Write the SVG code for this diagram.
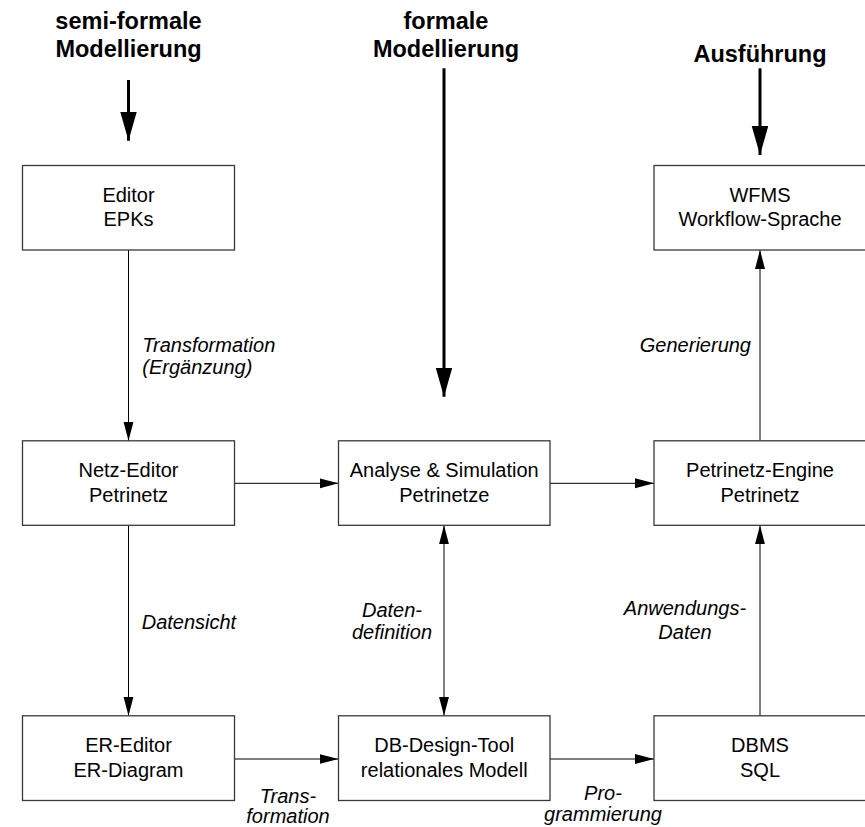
<svg xmlns="http://www.w3.org/2000/svg" width="865" height="827" viewBox="0 0 865 827">
  <style>
    .box { fill: #ffffff; stroke: #3a3a3a; stroke-width: 1.3; }
    .txt { font-family: "Liberation Sans", Arial, sans-serif; font-size: 20px; fill: #000; text-anchor: middle; }
    .head { font-family: "Liberation Sans", Arial, sans-serif; font-size: 23.5px; font-weight: bold; fill: #000; text-anchor: middle; }
    .lbl { font-family: "Liberation Sans", Arial, sans-serif; font-size: 20px; font-style: italic; fill: #000; }
    .conn { fill: none; stroke: #000; stroke-width: 1; }
    .thick { fill: none; stroke: #000; stroke-width: 3; }
  </style>
  <defs>
    <marker id="arr" markerUnits="userSpaceOnUse" markerWidth="20" markerHeight="11" refX="19" refY="5" orient="auto-start-reverse">
      <path d="M0,0 L19,5 L0,10 z" fill="#000"/>
    </marker>
    <marker id="bigarr" markerUnits="userSpaceOnUse" markerWidth="30" markerHeight="18" refX="29" refY="8.3" orient="auto">
      <path d="M0,0 L29,8.3 L0,16.6 z" fill="#000"/>
    </marker>
  </defs>

  <!-- column headings -->
  <g id="heading-semiformal">
    <text class="head" x="128.5" y="29.3">semi-formale</text>
    <text class="head" x="128.5" y="56.7">Modellierung</text>
  </g>
  <g id="heading-formal">
    <text class="head" x="446" y="29.3">formale</text>
    <text class="head" x="446" y="56.7">Modellierung</text>
  </g>
  <g id="heading-execution">
    <text class="head" x="760" y="62.3">Ausführung</text>
  </g>

  <!-- connectors -->
  <g id="connectors">
    <path class="thick" d="M128.5,80 V140.7" marker-end="url(#bigarr)"/>
    <path class="thick" d="M444,68.3 V396.7" marker-end="url(#bigarr)"/>
    <path class="thick" d="M760,68.3 V155" marker-end="url(#bigarr)"/>

    <path class="conn" d="M128.5,250 V440.8" marker-end="url(#arr)"/>
    <path class="conn" d="M128.5,525.3 V715.8" marker-end="url(#arr)"/>
    <path class="conn" d="M234.5,483.3 H338.5" marker-end="url(#arr)"/>
    <path class="conn" d="M550,483.3 H654" marker-end="url(#arr)"/>
    <path class="conn" d="M760,440.8 V250" marker-end="url(#arr)"/>
    <path class="conn" d="M760,715.8 V525.3" marker-end="url(#arr)"/>
    <path class="conn" d="M444,525.3 V715.8" marker-start="url(#arr)" marker-end="url(#arr)"/>
    <path class="conn" d="M234.5,759 H338.5" marker-end="url(#arr)"/>
    <path class="conn" d="M550,759 H654" marker-end="url(#arr)"/>

    <text class="lbl" x="142.3" y="351.5">Transformation</text>
    <text class="lbl" x="142.3" y="374">(Ergänzung)</text>
    <text class="lbl" x="751" y="351.7" text-anchor="end">Generierung</text>
    <text class="lbl" x="141.7" y="629.3">Datensicht</text>
    <text class="lbl" x="392" y="616.7" text-anchor="middle">Daten-</text>
    <text class="lbl" x="392" y="639" text-anchor="middle">definition</text>
    <text class="lbl" x="685" y="615" text-anchor="middle">Anwendungs-</text>
    <text class="lbl" x="685" y="639" text-anchor="middle">Daten</text>
    <text class="lbl" x="288" y="802.5" text-anchor="middle">Trans-</text>
    <text class="lbl" x="288" y="823" text-anchor="middle">formation</text>
    <text class="lbl" x="603" y="800" text-anchor="middle">Pro-</text>
    <text class="lbl" x="603" y="820.5" text-anchor="middle">grammierung</text>
  </g>

  <!-- tool boxes -->
  <g id="editor-epk">
    <rect class="box" x="22.5" y="165.5" width="212" height="84.5"/>
    <text class="txt" x="128.5" y="201.7">Editor</text>
    <text class="txt" x="128.5" y="226.2">EPKs</text>
  </g>
  <g id="wfms">
    <rect class="box" x="654" y="165.5" width="212" height="84.5"/>
    <text class="txt" x="760" y="201.7">WFMS</text>
    <text class="txt" x="760" y="226.2">Workflow-Sprache</text>
  </g>
  <g id="netz-editor">
    <rect class="box" x="22.5" y="440.8" width="212" height="84.5"/>
    <text class="txt" x="128.5" y="476.5">Netz-Editor</text>
    <text class="txt" x="128.5" y="501.5">Petrinetz</text>
  </g>
  <g id="analyse-simulation">
    <rect class="box" x="338.5" y="440.8" width="211.5" height="84.5"/>
    <text class="txt" x="444.25" y="476.5">Analyse &amp; Simulation</text>
    <text class="txt" x="444.25" y="501.5">Petrinetze</text>
  </g>
  <g id="petrinetz-engine">
    <rect class="box" x="654" y="440.8" width="212" height="84.5"/>
    <text class="txt" x="760" y="476.5">Petrinetz-Engine</text>
    <text class="txt" x="760" y="501.5">Petrinetz</text>
  </g>
  <g id="er-editor">
    <rect class="box" x="22.5" y="715.8" width="212" height="84.7"/>
    <text class="txt" x="128.5" y="751.7">ER-Editor</text>
    <text class="txt" x="128.5" y="776.7">ER-Diagram</text>
  </g>
  <g id="db-design-tool">
    <rect class="box" x="338.5" y="715.8" width="211.5" height="84.7"/>
    <text class="txt" x="444.25" y="751.7">DB-Design-Tool</text>
    <text class="txt" x="444.25" y="776.7">relationales Modell</text>
  </g>
  <g id="dbms">
    <rect class="box" x="654" y="715.8" width="212" height="84.7"/>
    <text class="txt" x="760" y="751.7">DBMS</text>
    <text class="txt" x="760" y="776.7">SQL</text>
  </g>
</svg>
